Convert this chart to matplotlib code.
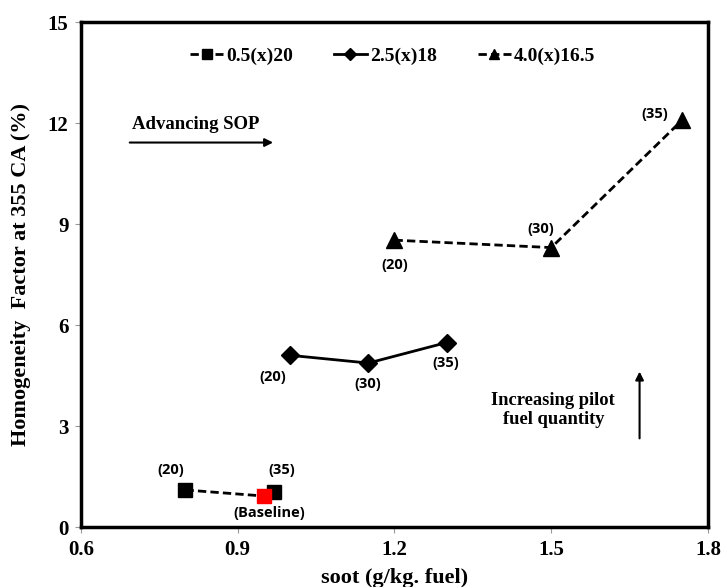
import numpy as np
import matplotlib.pyplot as plt

# series: pilot quantity (x) injection pressure
s1_x = [0.80, 0.95, 0.97]
s1_y = [1.10, 0.92, 1.03]
s2_x = [1.00, 1.15, 1.30]
s2_y = [5.10, 4.87, 5.48]
s3_x = [1.20, 1.50, 1.75]
s3_y = [8.52, 8.30, 12.08]
base_x = [0.95]
base_y = [0.92]

s1_lab = ["(20)", "", "(35)"]
s2_lab = ["(20)", "(30)", "(35)"]
s3_lab = ["(20)", "(30)", "(35)"]

xticks = [0.6, 0.9, 1.2, 1.5, 1.8]
yticks = [0, 3, 6, 9, 12, 15]

serif = "Liberation Serif"
sans = "Open Sans"

fig = plt.figure(figsize=(7.21, 5.87), dpi=100)
ax = fig.add_axes([0.1123, 0.1022, 0.8697, 0.8603])

ax.plot(s1_x, s1_y, color="black", ls=(0, (3, 1.5)), lw=2, marker="s", ms=10,
        markevery=[0, 2], label="0.5(x)20")
ax.plot(s2_x, s2_y, color="black", ls="-", lw=2, marker="D", ms=9, label="2.5(x)18")
ax.plot(s3_x, s3_y, color="black", ls=(0, (3, 1.5)), lw=2, marker="^", ms=11,
        label="4.0(x)16.5")
ax.plot(base_x, base_y, ls="none", marker="s", ms=10, color="red", zorder=5)

lab_kw = dict(fontfamily=sans, fontweight="bold", fontsize=10.5, ha="center", va="center")
# point labels (placed beside each marker)
ax.text(0.772, 1.69, s1_lab[0], **lab_kw)
ax.text(0.984, 1.69, s1_lab[2], **lab_kw)
ax.text(0.961, 0.42, "(Baseline)", **lab_kw)
s2_pos = [(0.967, 4.45), (1.149, 4.24), (1.298, 4.87)]
s3_pos = [(1.200, 7.77), (1.480, 8.84), (1.698, 12.28)]
for (x, y), t in zip(s2_pos, s2_lab):
    ax.text(x, y, t, **lab_kw)
for (x, y), t in zip(s3_pos, s3_lab):
    ax.text(x, y, t, **lab_kw)

# annotations
ax.text(0.82, 11.96, "Advancing SOP", fontfamily=serif, fontweight="bold",
        fontsize=13.5, ha="center", va="center")
ax.annotate("", xy=(0.973, 11.42), xytext=(0.688, 11.42),
            arrowprops=dict(arrowstyle="-|>", color="black", lw=1.5, mutation_scale=12))
ax.text(1.504, 3.47, "Increasing pilot\nfuel quantity", fontfamily=serif, fontweight="bold",
        fontsize=13.3, ha="center", va="center", linespacing=1.2)
ax.annotate("", xy=(1.669, 4.7), xytext=(1.669, 2.55),
            arrowprops=dict(arrowstyle="-|>", color="black", lw=1.5, mutation_scale=12))

ax.set_xlim(0.6, 1.8)
ax.set_ylim(0, 15)
ax.set_xticks(xticks)
ax.set_yticks(yticks)
ax.set_xticklabels([str(t) for t in xticks], fontfamily=serif, fontweight="bold", fontsize=15)
ax.set_yticklabels([str(t) for t in yticks], fontfamily=serif, fontweight="bold", fontsize=15)
ax.tick_params(direction="out", length=4, color="#999999", pad=5)
for sp in ax.spines.values():
    sp.set_linewidth(2.5)
ax.set_xlabel("soot (g/kg. fuel)", fontfamily=serif, fontweight="bold", fontsize=16, labelpad=6)
ax.set_ylabel("Homogeneity  Factor at 355 CA (%)", fontfamily=serif, fontweight="bold",
              fontsize=16, labelpad=12)

ax.legend(loc="upper center", ncol=3, frameon=False, bbox_to_anchor=(0.497, 0.985),
          prop=dict(family=serif, weight="bold", size=14), handlelength=1.7,
          handletextpad=0.15, columnspacing=2.1, markerscale=0.7)

fig.savefig("out.png", dpi=100)
